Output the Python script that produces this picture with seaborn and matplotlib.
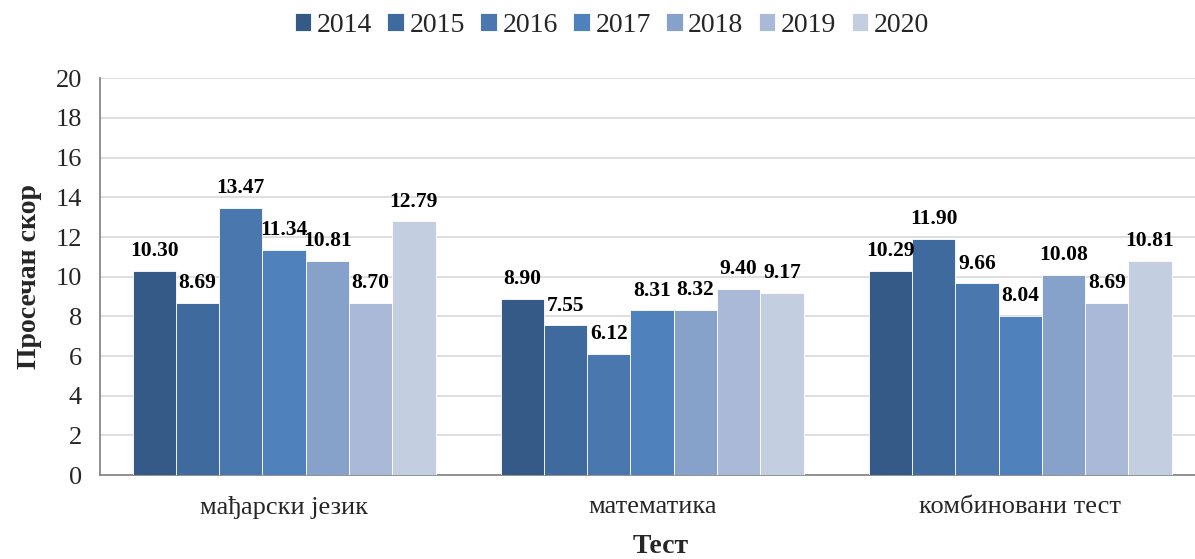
import numpy as np
import pandas as pd
import matplotlib
matplotlib.use('Agg')
import matplotlib.pyplot as plt
import seaborn as sns

# ── Data ───────────────────────────────────────────────
TESTS  = ['мађарски језик', 'математика', 'комбиновани тест']
YEARS  = ['2014', '2015', '2016', '2017', '2018', '2019', '2020']
scores_2014 = [10.30, 8.90, 10.29]
scores_2015 = [8.69, 7.55, 11.90]
scores_2016 = [13.47, 6.12, 9.66]
scores_2017 = [11.34, 8.31, 8.04]
scores_2018 = [10.81, 8.32, 10.08]
scores_2019 = [8.70, 9.40, 8.69]
scores_2020 = [12.79, 9.17, 10.81]

COLORS = ['#365A87', '#3F6A9E', '#4A77AE', '#4F81BD',
          '#86A1CA', '#AAB9D7', '#C4CEE1']

all_scores = [scores_2014, scores_2015, scores_2016, scores_2017,
              scores_2018, scores_2019, scores_2020]
df = pd.DataFrame([
    {'test': t, 'year': y, 'score': s}
    for y, vals in zip(YEARS, all_scores)
    for t, s in zip(TESTS, vals)
])

# ── Style ──────────────────────────────────────────────
sns.set_theme(style='white')
plt.rcParams['font.family'] = ['Liberation Serif', 'DejaVu Serif']

fig = plt.figure(figsize=(11.95, 5.59), dpi=100)
ax = fig.add_axes([0.0837, 0.150, 0.924, 0.710])

sns.barplot(data=df, x='test', y='score', hue='year', order=TESTS,
            hue_order=YEARS, palette=COLORS, saturation=1, width=0.823,
            gap=0, edgecolor='white', linewidth=0.6, ax=ax, zorder=3)

for cont in ax.containers:
    ax.bar_label(cont, fmt='%.2f', padding=7, fontsize=15.5,
                 fontweight='bold', color='black')

ax.set_ylim(0, 20)
ax.set_yticks(range(0, 21, 2))
ax.set_xlim(-0.5, 2.5)
ax.grid(axis='y', color='#D9D9D9', linewidth=1.2, zorder=0)
ax.set_axisbelow(True)

for side in ['top', 'right']:
    ax.spines[side].set_visible(False)
for side in ['left', 'bottom']:
    ax.spines[side].set_color('#898989')
    ax.spines[side].set_linewidth(1.3)

ax.tick_params(axis='y', which='major', direction='out', length=6,
               width=1.2, color='#898989', labelsize=19, pad=7)
ax.tick_params(axis='x', which='major', length=0, labelsize=19, pad=15)
ax.set_xticks([-0.5, 0.5, 1.5, 2.5], minor=True)
ax.tick_params(axis='x', which='minor', direction='out', length=7,
               width=1.2, color='#898989')

ax.set_xlabel('Тест', fontsize=20, fontweight='bold', labelpad=11)
ax.xaxis.label.set_x(0.508)
ax.set_ylabel('Просечан скор', fontsize=20, fontweight='bold', labelpad=10)

handles, labels = ax.get_legend_handles_labels()
ax.legend(handles, labels, loc='center', bbox_to_anchor=(0.512, 0.955),
          bbox_transform=fig.transFigure, ncol=7, frameon=False,
          fontsize=20, handlelength=0.6, handleheight=0.6,
          handletextpad=0.2, columnspacing=0.55)

fig.savefig('out.png', dpi=100)
